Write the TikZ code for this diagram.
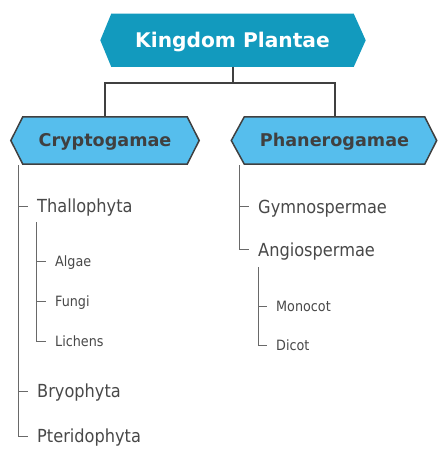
\documentclass[tikz,border=0pt]{standalone}
\usepackage{fontspec}
\setmainfont{DejaVu Sans}
\newfontfamily\condfont{DejaVu Sans Condensed}
\usetikzlibrary{backgrounds}
\definecolor{topfill}{RGB}{18,154,190}
\definecolor{subfill}{RGB}{86,190,237}
\definecolor{edgegray}{RGB}{64,64,64}
\definecolor{txtgray}{RGB}{72,72,72}
\definecolor{treegray}{RGB}{105,105,105}
\tikzset{
  hexbox/.style={draw=none, inner sep=0pt, text depth=0pt},
  lvlA/.style={anchor=west, inner sep=0pt, text=txtgray, font=\condfont\fontsize{18}{20}\selectfont, text height=13.1pt, text depth=0pt},
  lvlB/.style={anchor=west, inner sep=0pt, text=txtgray, font=\condfont\fontsize{14.2}{16}\selectfont, text height=10.4pt, text depth=0pt},
  conn/.style={draw=edgegray, line width=2pt},
  tree/.style={draw=treegray, line width=1pt},
}
\begin{document}
\begin{tikzpicture}[x=1pt,y=-1pt]
\useasboundingbox (0,0) rectangle (442,457);
% header nodes
\node[hexbox, minimum width=242, minimum height=53, text height=14.6pt, text=white, font=\bfseries\fontsize{20.2}{24}\selectfont] (top) at (232.5,40.3) {Kingdom Plantae};
\node[hexbox, minimum width=164, minimum height=47, text height=12.9pt, text=edgegray, font=\bfseries\fontsize{17.6}{20}\selectfont] (cry) at (105,140.5) {Cryptogamae};
\node[hexbox, minimum width=180, minimum height=47, text height=12.9pt, text=edgegray, font=\bfseries\fontsize{17.6}{20}\selectfont] (pha) at (334.5,140.5) {Phanerogamae};
\begin{scope}[on background layer]
\fill[topfill] (top.north west) -- (top.north east) -- ([xshift=12pt]top.east) -- (top.south east) -- (top.south west) -- ([xshift=-11pt]top.west) -- cycle;
\filldraw[fill=subfill, draw=edgegray, line width=1.5pt, line join=miter] (cry.north west) -- (cry.north east) -- ([xshift=12pt]cry.east) -- (cry.south east) -- (cry.south west) -- ([xshift=-12pt]cry.west) -- cycle;
\filldraw[fill=subfill, draw=edgegray, line width=1.5pt, line join=miter] (pha.north west) -- (pha.north east) -- ([xshift=12pt]pha.east) -- (pha.south east) -- (pha.south west) -- ([xshift=-13pt]pha.west) -- cycle;
\end{scope}
% top connectors
\coordinate (bus) at (232.5,83.5);
\draw[conn] (top.south) -- (bus);
\draw[conn] (bus) -| (cry.north);
\draw[conn] (bus) -| (pha.north);
% left tree
\node[lvlA] (thal) at (37,206.3) {Thallophyta};
\node[lvlB] (alg) at (55,261.5) {Algae};
\node[lvlB] (fun) at (55,301) {Fungi};
\node[lvlB] (lic) at (55,341.5) {Lichens};
\node[lvlA] (bry) at (37,391) {Bryophyta};
\node[lvlA] (pte) at (37,436) {Pteridophyta};
\coordinate (ct) at (18,165);
\coordinate (st) at (36,222);
\draw[tree] (ct) |- ([xshift=-9pt]pte.west);
\draw[tree] (ct |- thal.west) -- ([xshift=-9pt]thal.west);
\draw[tree] (ct |- bry.west) -- ([xshift=-9pt]bry.west);
\draw[tree] (st) |- ([xshift=-9pt]lic.west);
\draw[tree] (st |- alg.west) -- ([xshift=-9pt]alg.west);
\draw[tree] (st |- fun.west) -- ([xshift=-9pt]fun.west);
% right tree
\node[lvlA] (gym) at (258,206.5) {Gymnospermae};
\node[lvlA] (ang) at (258,249.5) {Angiospermae};
\node[lvlB] (mon) at (276,306.5) {Monocot};
\node[lvlB] (dic) at (276,345.5) {Dicot};
\coordinate (pt) at (239,165);
\coordinate (qt) at (258,267);
\draw[tree] (pt) |- ([xshift=-9pt]ang.west);
\draw[tree] (pt |- gym.west) -- ([xshift=-9pt]gym.west);
\draw[tree] (qt) |- ([xshift=-9pt]dic.west);
\draw[tree] (qt |- mon.west) -- ([xshift=-9pt]mon.west);
\end{tikzpicture}
\end{document}
